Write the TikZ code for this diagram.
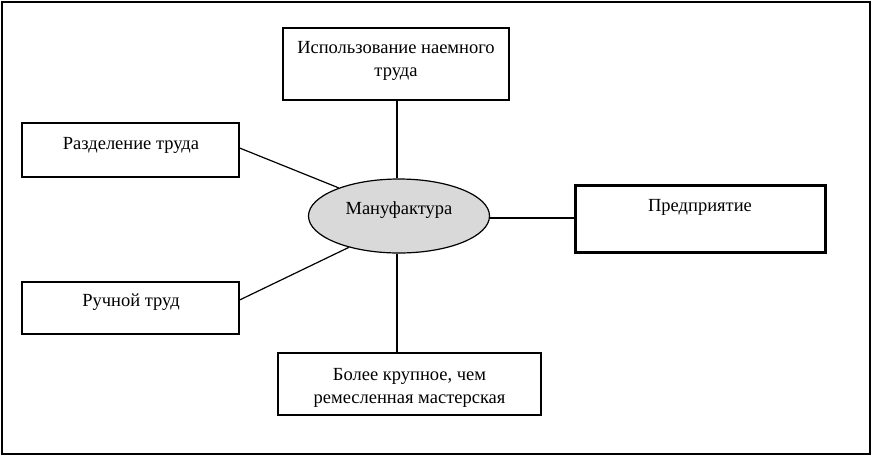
\documentclass[tikz,border=0pt]{standalone}
\usepackage{fontspec}
\setmainfont{Liberation Serif}
\usetikzlibrary{shapes.geometric}
\begin{document}
\begin{tikzpicture}[x=1pt,y=-1pt,
  box/.style={draw, line width=1.2pt, rectangle, inner sep=0pt},
  thickbox/.style={draw, line width=3pt, rectangle, inner sep=0pt},
  txt/.style={font=\fontsize{18.5}{22.5}\selectfont, align=center, inner sep=0pt, anchor=base},
  link/.style={line width=1.2pt}]
\useasboundingbox (0,0) rectangle (872,456);
\draw[line width=2pt] (2,2) rectangle (870,454);
% boxes
\node[box, minimum width=226pt, minimum height=72pt] (top) at (396,64) {};
\node[box, minimum width=217pt, minimum height=54pt] (div) at (130.5,150) {};
\node[box, minimum width=217pt, minimum height=52pt] (hand) at (130.5,308) {};
\node[thickbox, minimum width=250pt, minimum height=67pt] (ent) at (700,218.5) {};
\node[box, minimum width=263pt, minimum height=62pt] (big) at (409.5,384) {};
\node[draw, line width=1.2pt, ellipse, fill={rgb,255:red,217;green,217;blue,217}, minimum width=181pt, minimum height=74pt, inner sep=0pt] (man) at (399,216) {};
% texts
\node[txt] (ttop) at (396,76) {Использование наемного\\труда};
\node[txt] (tdiv) at (131,149) {Разделение труда};
\node[txt] (thand) at (131,306) {Ручной труд};
\node[txt] (tent) at (700,211.5) {Предприятие};
\node[txt] (tbig) at (409.5,403) {Более крупное, чем\\ремесленная мастерская};
\node[txt] (tman) at (399,214.5) {Мануфактура};
% links
\draw[link] (top.south -| 397,0) -- (man.north -| 397,0);
\draw[link] (div.east |- 0,148) -- (man.155);
\draw[link] (hand.east |- 0,300) -- (man.212);
\draw[link] (man.east |- 0,218) -- (ent.west |- 0,218);
\draw[link] (man.south -| 397,0) -- (big.north -| 397,0);
\end{tikzpicture}
\end{document}
